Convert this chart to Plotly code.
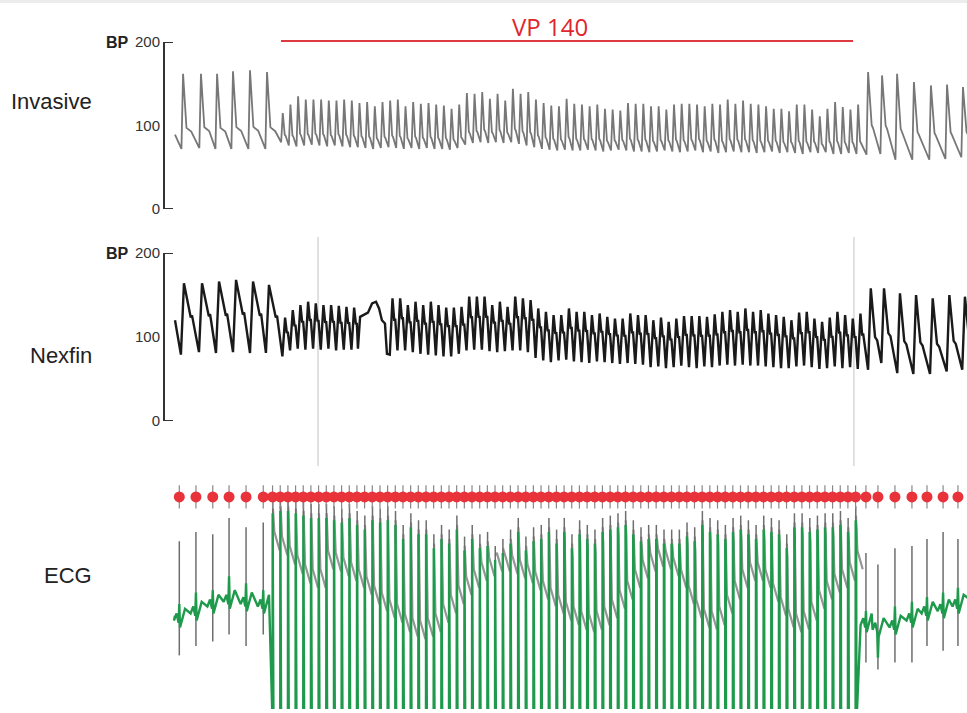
import plotly.graph_objects as go

# ---------------------------------------------------------------- data
PACING_RATE = 140                      # bpm  ("VP 140")
pacing_on, pacing_off = 5.92, 37.88    # s, extent of the VP 140 bar
event_marks = [7.99, 37.93]            # s, vertical markers (Nexfin panel)

# Invasive arterial pressure (mmHg) -- per beat: peak time, systolic, preceding diastolic
inv_start = (0.0, 89)
inv_pre_t = [0.45, 1.45, 2.35, 3.24, 4.19, 5.14]
inv_pre_sys = [162, 162, 162, 165, 166, 164]
inv_pre_dia = [72, 73, 72, 72, 72, 72]
inv_paced_start = 6.02
inv_paced_sys = [115, 125, 135, 131, 131, 131, 130, 130, 131, 130,
                 127, 128, 123, 128, 130, 131, 123, 128, 126, 127,
                 125, 124, 120, 125, 139, 138, 140, 132, 138, 130,
                 144, 138, 140, 131, 127, 124, 123, 132, 126, 125,
                 123, 125, 120, 119, 118, 127, 126, 126, 123, 123,
                 119, 125, 126, 126, 125, 123, 126, 125, 131, 126,
                 130, 126, 125, 123, 120, 120, 117, 125, 125, 119,
                 111, 120, 128, 122, 119, 125]
inv_paced_dia = [80, 76, 75, 76, 77, 76, 75, 76, 75, 74,
                 74, 73, 72, 73, 74, 73, 72, 73, 72, 73,
                 72, 72, 71, 73, 77, 79, 80, 79, 80, 79,
                 80, 78, 76, 74, 72, 71, 70, 71, 70, 70,
                 71, 70, 69, 70, 71, 70, 69, 69, 68, 69,
                 70, 69, 68, 69, 70, 68, 69, 67, 68, 69,
                 68, 68, 67, 68, 69, 67, 68, 67, 66, 68,
                 67, 68, 66, 66, 67, 66]
inv_post_t = [38.72, 39.50, 40.34, 41.28, 42.23, 43.13, 44.02]
inv_post_sys = [164, 160, 162, 152, 148, 149, 146]
inv_post_dia = [65, 66, 59, 59, 59, 60, 62]

# Nexfin finger pressure (mmHg)
nex_start = (0.0, 120)
nex_pre_t = [0.50, 1.51, 2.46, 3.41, 4.36, 5.25]
nex_pre_sys = [164, 164, 166, 168, 166, 162]
nex_pre_dia = [79, 82, 81, 82, 81, 81]
nex_paced_start = 6.15
nex_paced_sys = [123, 132, 138, 142, 140, 138, 138, 137, 136, 135,
                 None, None, None, None, 146, 146, 138, 142, 138, 142,
                 138, 135, 135, 136, 148, 148, 148, 138, 142, 136,
                 148, 146, 144, 134, 130, 126, 126, 134, 130, 130,
                 126, 128, 124, 122, 122, 128, 126, 126, 120, 123,
                 118, 122, 125, 125, 125, 124, 127, 130, 132, 130,
                 134, 130, 132, 128, 126, 124, 120, 129, 130, 122,
                 118, 123, 130, 126, 122, 128]
nex_paced_dia = [77, 84, 86, 85, 86, 85, 86, 84, 85, 85,
                 None, None, None, None, 79, 84, 84, 82, 80, 79,
                 78, 77, 77, 80, 84, 85, 85, 83, 82, 83,
                 84, 84, 82, 75, 72, 70, 72, 73, 71, 70,
                 69, 71, 70, 69, 68, 69, 68, 67, 64, 65,
                 63, 64, 66, 64, 63, 65, 64, 66, 67, 66,
                 67, 66, 66, 65, 64, 63, 63, 65, 66, 64,
                 62, 63, 65, 63, 64, 62]
nex_artifact_t = [10.22, 10.34, 10.56, 10.78, 11.01, 11.23, 11.40, 11.56, 11.73, 11.84]
nex_artifact_v = [86, 124, 127, 129, 140, 142, 134, 120, 116, 80]
nex_post_t = [38.87, 39.61, 40.50, 41.40, 42.33, 43.26, 44.13]
nex_post_sys = [158, 158, 152, 150, 146, 150, 148]
nex_post_dia = [61, 69, 57, 56, 56, 59, 61]

# ECG (arbitrary units 0-100)
ecg_start = 40
ecg_pre_t = [0.24, 1.17, 2.11, 3.02, 3.97, 4.93]
ecg_pre_top = [72, 76, 75, 82, 78, 80]
ecg_pre_bot = [23, 27, 29, 32, 27, 32]
ecg_pre_base = [38, 41, 44, 46, 45, 44]
ecg_pre_bump = [45, 50, 51, 57, 54, 51]
ecg_paced_start = 5.45
ecg_paced_tip = [90, 91, 91, 90, 89, 88, 88,
                 88, 87, 86, 88, 85, 83, 87, 86, 87, 85,
                 79, 84, 81, 81, 75, 79, 77, 83, 74, 79,
                 75, 76, 70, 73, 77, 82, 74, 78, 79, 82,
                 77, 82, 75, 81, 79, 77, 82, 83, 84, 85,
                 81, 78,
                 79, 79, 77, 77, 77, 80, 78, 85, 82, 81,
                 79, 82, 83, 81, 79, 83, 82, 81, 75, 84,
                 84, 82, 83, 84, 84, 85, 82, 87]
ecg_paced_mid = [68, 66, 62, 58, 54, 52, 52,
                 60, 59, 57, 55, 52, 49, 45, 42, 39, 37,
                 33, 31, 30, 31, 33, 37, 41, 45, 49, 52,
                 55, 57, 59, 59, 58, 56, 54, 51, 47, 44,
                 41, 38, 36, 34, 33, 34, 36, 39, 43, 47,
                 52, 56,
                 59, 61, 60, 57, 52, 45, 39, 35, 34, 36,
                 41, 47, 52, 55, 55, 52, 46, 40, 35, 33,
                 34, 38, 43, 47, 50, 52, 55, 60]
ecg_post_t = [38.60, 39.27, 40.22, 41.17, 42.01, 42.91, 43.74]
ecg_post_top = [67, 62, 69, 70, 73, 76, 73]
ecg_post_bot = [20, 17, 20, 20, 27, 25, 27]
ecg_post_base = [36, 34, 35, 38, 41, 42, 44]
ecg_post_bump = [42, 22, 44, 46, 48, 50, 52]

# ---------------------------------------------------------------- helpers
interval = 60.0 / PACING_RATE


def paced_times(start, n):
    return [start + i * interval for i in range(n)]


def beat_points(ts, syss, dias, rise, notch):
    pts = []
    for t, s, d in zip(ts, syss, dias):
        if s is None:
            continue
        pts.append((t - rise, d))
        pts.append((t, s))
        for dt, frac in notch:
            pts.append((t + dt, s - frac * (s - d)))
    return pts


def pressure_trace(start, groups, extra=()):
    pts = [start]
    for g in groups:
        pts += g
    pts += list(extra)
    pts.sort(key=lambda p: p[0])
    return [p[0] for p in pts], [p[1] for p in pts]


inv_x, inv_y = pressure_trace(inv_start, [
    beat_points(inv_pre_t, inv_pre_sys, inv_pre_dia, 0.09, [(0.19, 0.72), (0.46, 0.77)]),
    beat_points(paced_times(inv_paced_start, len(inv_paced_sys)), inv_paced_sys, inv_paced_dia,
                0.09, [(0.11, 0.75), (0.16, 0.78)]),
    beat_points(inv_post_t, inv_post_sys, inv_post_dia, 0.09, [(0.20, 0.64), (0.28, 0.68)]),
])

nex_x, nex_y = pressure_trace(nex_start, [
    beat_points(nex_pre_t, nex_pre_sys, nex_pre_dia, 0.17, [(0.38, 0.48), (0.45, 0.45)]),
    beat_points(paced_times(nex_paced_start, len(nex_paced_sys)), nex_paced_sys, nex_paced_dia,
                0.15, [(0.10, 0.40), (0.15, 0.36)]),
    beat_points(nex_post_t, nex_post_sys, nex_post_dia, 0.15, [(0.24, 0.60), (0.36, 0.64)]),
], extra=zip(nex_artifact_t, nex_artifact_v))

# ECG green trace, grey spikes and grey paced band
gx, gy = [0.0], [ecg_start]
sx, sy = [], []
bx, by = [], []


def ecg_normal(ts, tops, bots, bases, bumps):
    for t, top, bot, b, bump in zip(ts, tops, bots, bases, bumps):
        for dt, dv in [(-0.30, 0), (-0.15, 3), (-0.04, -1)]:
            gx.append(t + dt); gy.append(b + dv)
        gx.append(t); gy.append(bump)
        for dt, dv in [(0.04, -3), (0.18, 1), (0.32, 5)]:
            gx.append(t + dt); gy.append(b + dv)
        sx.extend([t, t, None]); sy.extend([bot, top, None])


ecg_normal(ecg_pre_t, ecg_pre_top, ecg_pre_bot, ecg_pre_base, ecg_pre_bump)
ecg_paced_t = paced_times(ecg_paced_start, len(ecg_paced_tip))
for t, tip, mid in zip(ecg_paced_t, ecg_paced_tip, ecg_paced_mid):
    g = tip - 6
    gx.extend([t, t + 0.006, t + 0.03, t + 0.05]); gy.extend([-6, g, g - 4, -6])
    sx.extend([t + 0.012, t + 0.012, None]); sy.extend([g - 8, tip, None])
    bx.extend([t + 0.02, t + 0.10, t + 0.40, None]); by.extend([tip - 4, mid + 8, mid, None])
ecg_normal(ecg_post_t, ecg_post_top, ecg_post_bot, ecg_post_base, ecg_post_bump)
gx.append(44.6); gy.append(46)

dot_t = ecg_pre_t + ecg_paced_t + ecg_post_t
DOT_Y = 91
tick_x, tick_y = [], []
for t in dot_t:
    tick_x.extend([t, t, None]); tick_y.extend([DOT_Y - 5, DOT_Y + 5, None])

# ---------------------------------------------------------------- figure
W, H = 967, 713
X0 = 165
PX_PER_S = 17.9

fig = go.Figure()
fig.add_trace(go.Scatter(x=inv_x, y=inv_y, mode="lines", yaxis="y",
                         line=dict(color="#777777", width=1.8), hoverinfo="skip"))
fig.add_trace(go.Scatter(x=nex_x, y=nex_y, mode="lines", yaxis="y2",
                         line=dict(color="#1a1a1a", width=2.4), hoverinfo="skip"))
fig.add_trace(go.Scatter(x=bx, y=by, mode="lines", yaxis="y3",
                         line=dict(color="#959595", width=2.2), hoverinfo="skip"))
fig.add_trace(go.Scatter(x=sx, y=sy, mode="lines", yaxis="y3",
                         line=dict(color="#6e6e6e", width=1.5), hoverinfo="skip"))
fig.add_trace(go.Scatter(x=gx, y=gy, mode="lines", yaxis="y3",
                         line=dict(color="#1f9a4c", width=2.4), hoverinfo="skip"))
fig.add_trace(go.Scatter(x=tick_x, y=tick_y, mode="lines", yaxis="y3",
                         line=dict(color="#888888", width=1.2), hoverinfo="skip"))
fig.add_trace(go.Scatter(x=dot_t, y=[DOT_Y] * len(dot_t), mode="markers", yaxis="y3",
                         marker=dict(color="#e8333b", size=11, line=dict(width=0)),
                         hoverinfo="skip"))


def ydom(px_bottom, px_top):
    return [1 - px_bottom / H, 1 - px_top / H]


axis_common = dict(range=[0, 200], tickvals=[0, 100, 200], ticktext=["0", "100", "200"],
                   showline=True, linecolor="#333333", linewidth=2, showgrid=False,
                   zeroline=False, ticks="", anchor="x", automargin=False,
                   tickfont=dict(family="Liberation Sans, Arial, sans-serif", size=15, color="#333333"))

fig.update_layout(
    width=W, height=H, margin=dict(l=0, r=0, t=0, b=0, autoexpand=False),
    paper_bgcolor="white", plot_bgcolor="rgba(0,0,0,0)", showlegend=False,
    xaxis=dict(domain=[X0 / W, 1], range=[-(175 - X0) / PX_PER_S, (W - 175) / PX_PER_S],
               visible=False, automargin=False),
    yaxis=dict(domain=ydom(209, 42), **axis_common),
    yaxis2=dict(domain=ydom(421, 253), **axis_common),
    yaxis3=dict(domain=ydom(709, 476), range=[0, 100], visible=False, anchor="x",
                automargin=False),
)

shapes = [
    dict(type="rect", xref="paper", yref="paper", x0=0, x1=1, y0=1 - 3 / H, y1=1,
         fillcolor="#ececec", line=dict(width=0), layer="below"),
    dict(type="line", xref="x", yref="paper", x0=pacing_on, x1=pacing_off,
         y0=1 - 41 / H, y1=1 - 41 / H, line=dict(color="#dc3a40", width=2)),
]
for yr in ("y", "y2"):
    for v in (0, 200):
        shapes.append(dict(type="line", xref="paper", yref=yr, x0=X0 / W, x1=(X0 + 8) / W,
                           y0=v, y1=v, line=dict(color="#333333", width=2)))
for t in event_marks:
    shapes.append(dict(type="line", xref="x", yref="paper", x0=t, x1=t,
                       y0=1 - 466 / H, y1=1 - 237 / H, line=dict(color="#c4c4c4", width=1),
                       layer="below"))
fig.update_layout(shapes=shapes)

label_font = dict(family="Liberation Sans, Arial, sans-serif", size=22, color="#222222")
ann = [
    dict(text="Invasive", x=94 / W, y=1 - 102 / H),
    dict(text="Nexfin", x=94 / W, y=1 - 355 / H),
    dict(text="ECG", x=94 / W, y=1 - 575 / H),
]
annotations = [dict(xref="paper", yref="paper", xanchor="right", yanchor="middle",
                    showarrow=False, font=label_font, **a) for a in ann]
for yr in ("y", "y2"):
    annotations.append(dict(text="<b>BP</b>", xref="paper", yref=yr, x=131 / W, y=200,
                            xanchor="right", yanchor="middle", showarrow=False,
                            font=dict(family="Liberation Sans, Arial, sans-serif", size=16,
                                      color="#222222")))
annotations.append(dict(text="VP 140", xref="paper", yref="paper", x=550 / W,
                        y=1 - 27 / H, xanchor="center", yanchor="middle", showarrow=False,
                        font=dict(family="Open Sans, sans-serif", size=24, color="#e0262d")))
fig.update_layout(annotations=annotations)

fig.write_html("out.html")
